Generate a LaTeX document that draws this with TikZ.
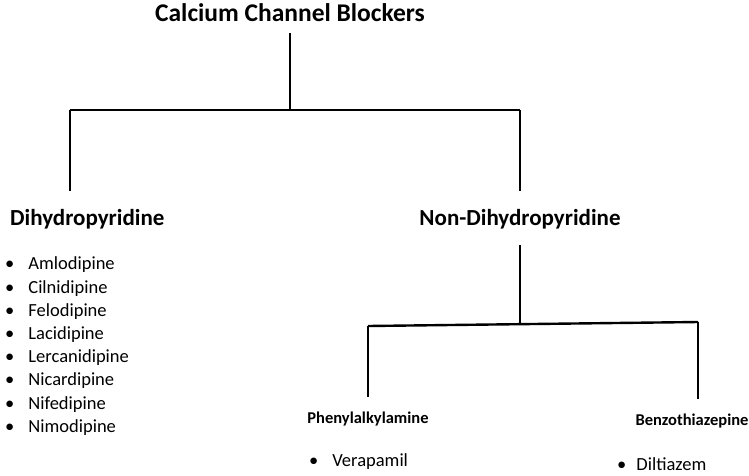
\documentclass[tikz,border=0pt]{standalone}
\usepackage{fontspec}
\setmainfont{Carlito}
\begin{document}
\begin{tikzpicture}[x=1pt,y=-1pt,
    branch/.style={line width=2.4pt},
    title/.style={font=\fontsize{25.5}{28}\selectfont\bfseries},
    head/.style={font=\fontsize{23}{26}\selectfont\bfseries},
    subhead/.style={font=\fontsize{16.5}{19}\selectfont\bfseries},
    item/.style={font=\fontsize{18.5}{22}\selectfont, anchor=west, inner sep=0pt}]
    \useasboundingbox (0,0) rectangle (749,475);
    \node[title] (ccb) at (290,13) {Calcium Channel Blockers};
    \coordinate (top) at (290,110);
    \coordinate (ltop) at (70,110);
    \coordinate (rtop) at (520,110);
    \node[head, anchor=west, inner sep=0pt] (dhp) at (10,219) {Dihydropyridine};
    \node[head] (ndhp) at (520,219) {Non-Dihydropyridine};
    \coordinate (ldown) at (70,191);
    \coordinate (rdown) at (520,191);
    \draw[branch] (290,33) -- (top);
    \draw[branch] (ltop) -- (rtop);
    \draw[branch] (ltop) -- (ldown);
    \draw[branch] (rtop) -- (rdown);
    % left list
    \foreach \name [count=\i] in {Amlodipine,Cilnidipine,Felodipine,Lacidipine,Lercanidipine,Nicardipine,Nifedipine,Nimodipine}
      \node[item] (d\i) at (5,265+23.2*\i-23.2) {\textbullet\hspace{14pt}\name};
    % right branch
    \coordinate (mid) at (520,323);
    \coordinate (pa) at (368,326);
    \coordinate (bz) at (698,322);
    \draw[branch] (520,245) -- (mid);
    \draw[branch] (pa) -- (bz);
    \node[subhead] (phen) at (368,419) {Phenylalkylamine};
    \node[subhead] (benz) at (692,421) {Benzothiazepine};
    \draw[branch] (pa) -- (368,397);
    \draw[branch] (bz) -- (698,399);
    \node[item] (vera) at (309,462) {\textbullet\hspace{14pt}Verapamil};
    \node[item] (dilt) at (617,464) {\textbullet\hspace{10pt}Diltiazem};
\end{tikzpicture}
\end{document}
